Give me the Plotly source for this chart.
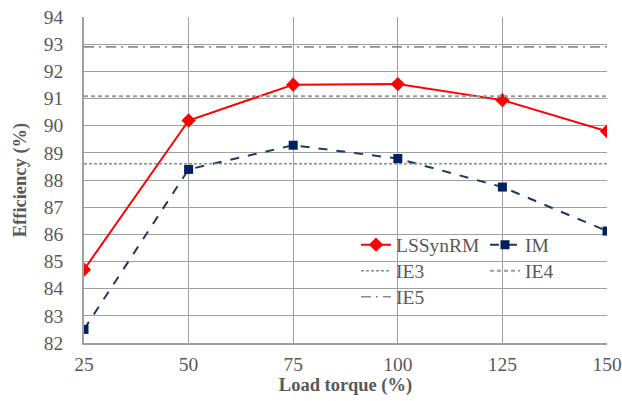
import plotly.graph_objects as go

load = [25, 50, 75, 100, 125, 150]
lssynrm = [84.7, 90.19, 91.51, 91.53, 90.94, 89.79]
im = [82.5, 88.39, 89.28, 88.79, 87.74, 86.12]
ie3 = 88.6
ie4 = 91.08
ie5 = 92.9
x_ticks = [25, 50, 75, 100, 125, 150]
y_ticks = list(range(82, 95))

FONT = "Liberation Serif"
TXT = "#595959"
FS = 19.5

fig = go.Figure()
fig.add_trace(go.Scatter(x=load, y=lssynrm, name="LSSynRM", mode="lines+markers",
                         line=dict(color="#ff0000", width=2),
                         marker=dict(symbol="diamond", size=11, color="#ff0000"),
                         legend="legend"))
fig.add_trace(go.Scatter(x=load, y=im, name="IM", mode="lines+markers",
                         line=dict(color="#1f3864", width=2, dash="dash"),
                         marker=dict(symbol="square", size=9, color="#002060"),
                         legend="legend2"))
xr = [x_ticks[0], x_ticks[-1]]
fig.add_trace(go.Scatter(x=xr, y=[ie3, ie3], name="IE3", mode="lines",
                         line=dict(color="#8c8c8c", width=1.5, dash="3px,2px"),
                         legend="legend3"))
fig.add_trace(go.Scatter(x=xr, y=[ie4, ie4], name="IE4", mode="lines",
                         line=dict(color="#9a9a9a", width=2, dash="4px,3px"),
                         legend="legend4"))
fig.add_trace(go.Scatter(x=xr, y=[ie5, ie5], name="IE5", mode="lines",
                         line=dict(color="#8c8c8c", width=1.6, dash="10px,5px,2px,5px"),
                         legend="legend5"))

def leg(px, py):
    return dict(xref="paper", yref="paper", x=(px - 84) / 523, y=(343 - py) / 326,
                xanchor="left", yanchor="middle", bgcolor="rgba(0,0,0,0)",
                font=dict(family=FONT, size=FS, color=TXT), itemwidth=30)

fig.update_layout(
    width=622, height=401,
    margin=dict(l=84, r=15, t=17, b=58, autoexpand=False),
    paper_bgcolor="white", plot_bgcolor="white",
    font=dict(family=FONT, size=FS, color=TXT),
    showlegend=True,
    legend=leg(356, 245), legend2=leg(485, 245), legend3=leg(356, 271),
    legend4=leg(485, 271), legend5=leg(356, 297),
    xaxis=dict(range=[25, 150], tickvals=x_ticks, showgrid=True, gridcolor="#a0a0a0",
               gridwidth=1.3, showline=True, linecolor="#a0a0a0", linewidth=1.5,
               zeroline=False, ticks="", ticklabelstandoff=3, automargin=False,
               tickfont=dict(family=FONT, size=FS, color=TXT),
               title=dict(text="<b>Load torque (%)</b>", standoff=0,
                          font=dict(family=FONT, size=18.5, color=TXT))),
    yaxis=dict(range=[82, 94], tickvals=y_ticks, showgrid=True, gridcolor="#a0a0a0",
               gridwidth=1.3, showline=True, linecolor="#a0a0a0", linewidth=1.5,
               zeroline=False, ticks="", ticklabelstandoff=15, automargin=False,
               tickfont=dict(family=FONT, size=FS, color=TXT),
               title=dict(text="<b>Efficiency (%)</b>", standoff=12,
                          font=dict(family=FONT, size=18.5, color=TXT))),
)
fig.write_html("out.html")
